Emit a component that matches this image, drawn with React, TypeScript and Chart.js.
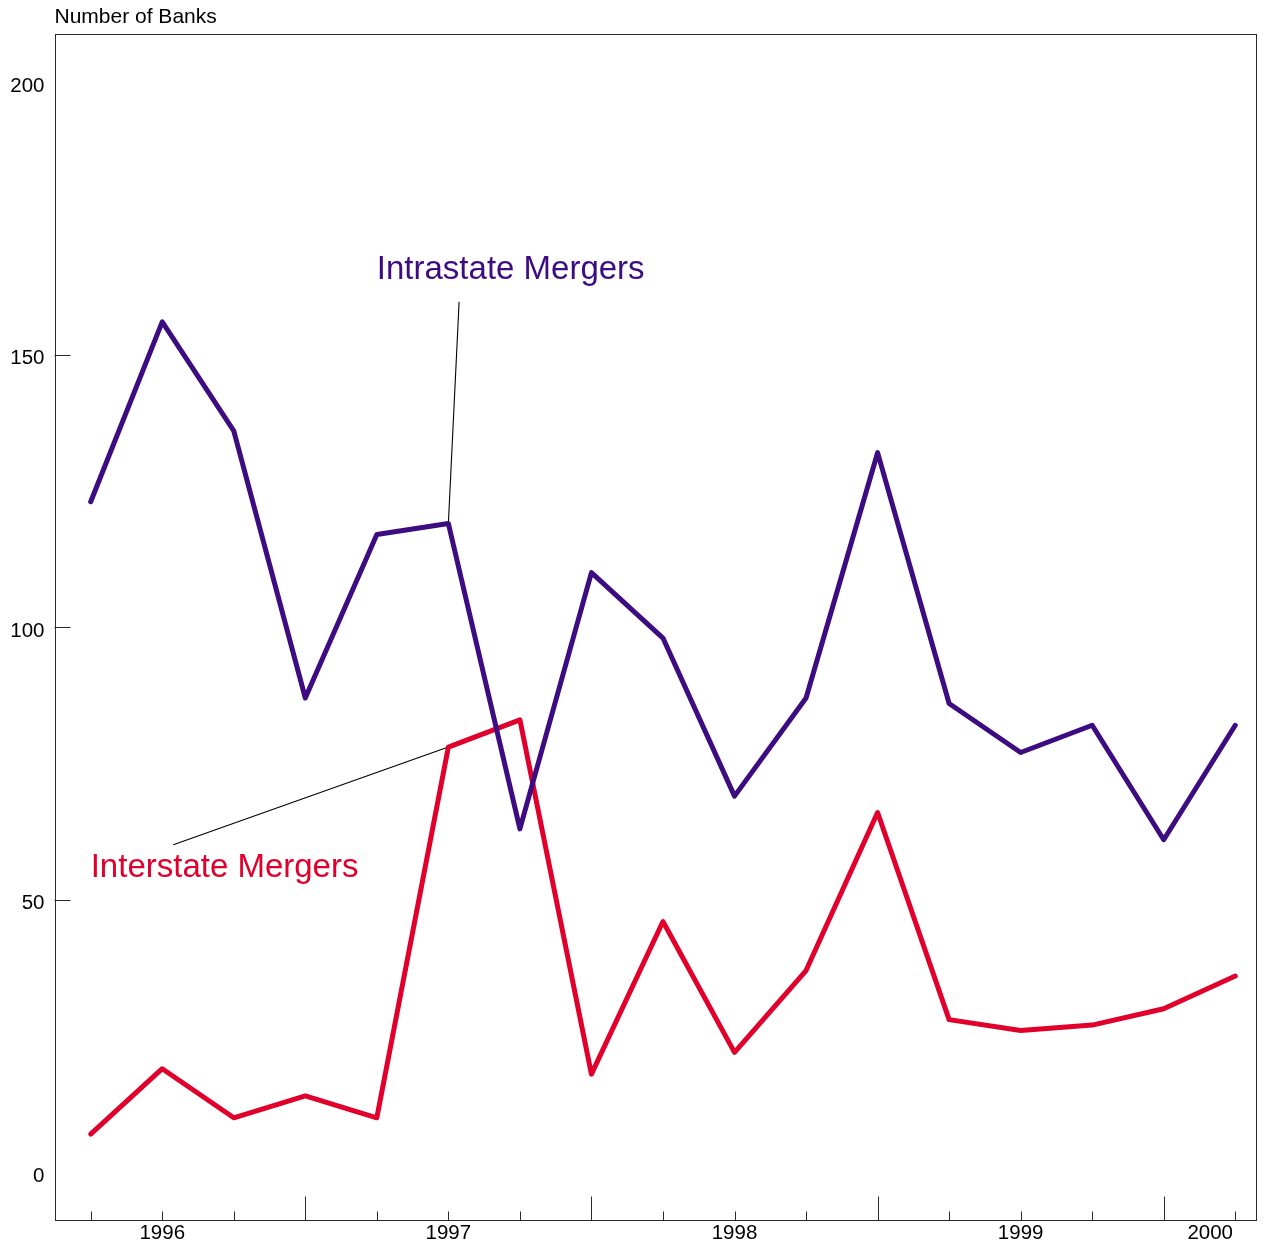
import React, { useEffect, useRef } from 'react';
import { Chart, registerables } from 'chart.js';

Chart.register(...registerables);

// ---- Data ----
const quarters = [
  '1996Q1', '1996Q2', '1996Q3', '1996Q4',
  '1997Q1', '1997Q2', '1997Q3', '1997Q4',
  '1998Q1', '1998Q2', '1998Q3', '1998Q4',
  '1999Q1', '1999Q2', '1999Q3', '1999Q4',
  '2000Q1',
];
const intrastateMergers = [123, 156, 136, 87, 117, 119, 63, 110, 98, 69, 87, 132, 86, 77, 82, 61, 82];
const interstateMergers = [7, 19, 10, 14, 10, 78, 83, 18, 46, 22, 37, 66, 28, 26, 27, 30, 36];

const yearLabels = ['1996', '1997', '1998', '1999', '2000'];
const yearLabelPositions = [1, 5, 9, 13, 15.65];
const yearBoundaryTicks = [3, 7, 11, 15];
const yTickValues = [0, 50, 100, 150, 200];
const yTickMarks = [50, 100, 150];

const PURPLE = '#3d0c80';
const RED = '#e0002b';
const FRAME = '#2a2a2a';
const FONT = '"Liberation Sans", Arial, Helvetica, sans-serif';

const decorPlugin = {
  id: 'decor',
  beforeDatasetsDraw(chart: any) {
    const { ctx, scales } = chart;
    const x = scales.x;
    const y = scales.y;
    ctx.save();
    ctx.strokeStyle = '#000';
    ctx.lineWidth = 1.1;
    // leader lines
    ctx.beginPath();
    ctx.moveTo(x.getPixelForValue(5.15), y.getPixelForValue(159.7));
    ctx.lineTo(x.getPixelForValue(5), y.getPixelForValue(intrastateMergers[5]));
    ctx.moveTo(x.getPixelForValue(1.155), y.getPixelForValue(60.1));
    ctx.lineTo(x.getPixelForValue(5), y.getPixelForValue(interstateMergers[5]));
    ctx.stroke();
    ctx.restore();
  },
  afterDraw(chart: any) {
    const { ctx, chartArea: a, scales } = chart;
    const x = scales.x;
    const y = scales.y;
    ctx.save();
    // frame
    ctx.strokeStyle = FRAME;
    ctx.lineWidth = 1;
    ctx.strokeRect(Math.round(a.left) + 0.5, Math.round(a.top) + 0.5, Math.round(a.right - a.left) - 1, Math.round(a.bottom - a.top));
    // x tick marks (quarters, longer at year boundaries)
    ctx.beginPath();
    const bottom = Math.round(a.bottom) + 0.5;
    quarters.forEach((_, i) => {
      const px = Math.round(x.getPixelForValue(i)) + 0.5;
      const len = yearBoundaryTicks.includes(i) ? 24 : 9;
      ctx.moveTo(px, bottom);
      ctx.lineTo(px, bottom - len);
    });
    // y tick marks
    yTickMarks.forEach((v) => {
      const py = Math.round(y.getPixelForValue(v)) + 0.5;
      ctx.moveTo(a.left, py);
      ctx.lineTo(a.left + 16, py);
    });
    ctx.stroke();
    // title
    ctx.fillStyle = '#000';
    ctx.font = `21px ${FONT}`;
    ctx.textAlign = 'left';
    ctx.textBaseline = 'alphabetic';
    ctx.fillText('Number of Banks', a.left, 23);
    // annotations
    ctx.font = `33px ${FONT}`;
    ctx.fillStyle = PURPLE;
    ctx.fillText('Intrastate Mergers', x.getPixelForValue(4.0), y.getPixelForValue(163.8));
    ctx.fillStyle = RED;
    ctx.fillText('Interstate Mergers', x.getPixelForValue(0.0), y.getPixelForValue(54.1));
    ctx.restore();
  },
};

export default function App() {
  const canvasRef = useRef<HTMLCanvasElement | null>(null);

  useEffect(() => {
    const canvas = canvasRef.current;
    if (!canvas) return;
    const chart = new Chart(canvas, {
      type: 'line',
      data: {
        datasets: [
          {
            label: 'Intrastate Mergers',
            data: intrastateMergers.map((v, i) => ({ x: i, y: v })),
            borderColor: PURPLE,
            borderWidth: 5,
            pointRadius: 0,
            borderJoinStyle: 'round',
            borderCapStyle: 'round',
            tension: 0,
            fill: false,
          },
          {
            label: 'Interstate Mergers',
            data: interstateMergers.map((v, i) => ({ x: i, y: v })),
            borderColor: RED,
            borderWidth: 5,
            pointRadius: 0,
            borderJoinStyle: 'round',
            borderCapStyle: 'round',
            tension: 0,
            fill: false,
          },
        ],
      },
      options: {
        responsive: false,
        animation: false,
        devicePixelRatio: 1,
        layout: { padding: { left: 8, top: 34, right: 9, bottom: 0 } },
        plugins: {
          legend: { display: false },
          title: { display: false },
          tooltip: { enabled: false },
        },
        scales: {
          x: {
            type: 'linear',
            min: -0.506,
            max: 16.29,
            afterBuildTicks: (s: any) => {
              s.ticks = yearLabelPositions.map((v) => ({ value: v }));
            },
            afterFit: (s: any) => {
              s.height = 29.5;
            },
            grid: { display: false, drawTicks: false },
            border: { display: false },
            ticks: {
              autoSkip: false,
              maxRotation: 0,
              padding: 2,
              color: '#000',
              font: { family: FONT, size: 20.5 },
              callback: (_v: any, i: number) => yearLabels[i],
            },
          },
          y: {
            type: 'linear',
            min: -8.66,
            max: 208.8,
            afterBuildTicks: (s: any) => {
              s.ticks = yTickValues.map((v) => ({ value: v }));
            },
            afterFit: (s: any) => {
              s.width = 46.5;
            },
            grid: { display: false, drawTicks: false },
            border: { display: false },
            ticks: {
              padding: 10,
              labelOffset: 4,
              color: '#000',
              font: { family: FONT, size: 20.5 },
              callback: (v: any) => String(v),
            },
          },
        },
      },
      plugins: [decorPlugin],
    } as any);
    return () => chart.destroy();
  }, []);

  return (
    <div style={{ position: 'fixed', left: 0, top: 0, width: 1265, height: 1249 }}>
      <canvas ref={canvasRef} width={1265} height={1249} style={{ display: 'block' }} />
    </div>
  );
}
